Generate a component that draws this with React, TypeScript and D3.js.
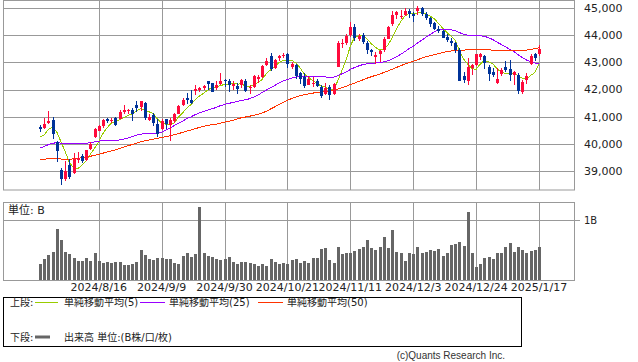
import React from 'react';
import * as d3 from 'd3';

// daily OHLC, 2024/7/29 - 2025/1/17
const opens = [
  40620, 40600, 40760, 40880, 40070, 39050, 38720, 39220, 38920, 39400,
  39540, 39390, 39800, 40240, 40490, 40640, 40900, 40830, 40950, 40920,
  41180, 41220, 41240, 41440, 41340, 41500, 40890, 41060, 40750, 40550,
  40900, 40700, 40850, 41110, 41450, 41700, 41620, 41950, 41980, 42070,
  42300, 42240, 42070, 42200, 42340, 42320, 42140, 42120, 42180, 42330,
  42040, 42080, 42400, 42450, 42900, 43230, 42800, 43150, 43250, 43300,
  42850, 42900, 42600, 42450, 42180, 42200, 42300, 42100, 41850, 42100,
  41850, 42850, 43700, 43700, 44000, 44300, 43880, 44000, 43700, 43450,
  43200, 43300, 43450, 43880, 44400, 44750, 44690, 44750, 44910, 44800,
  44900, 45000, 44780, 44620, 44450, 44250, 44150, 43950, 43800, 43700,
  43450, 42500, 42300, 42800, 42900, 43200, 43250, 42850, 42650, 42250,
  42560, 42850, 42750, 42530, 42550, 41900, 42350, 42950, 43300, 43300,
];
const highs = [
  40700, 40940, 41200, 40990, 40100, 39100, 39370, 39440, 39650, 39710,
  39620, 39780, 40070, 40590, 40700, 40910, 40950, 40960, 41000, 41250,
  41420, 41300, 41330, 41585, 41585, 41560, 41090, 41130, 40900, 40900,
  40920, 40950, 41120, 41420, 41690, 41860, 41980, 42170, 42110, 42170,
  42330, 42250, 42300, 42600, 42400, 42400, 42300, 42250, 42400, 42380,
  42150, 42530, 42550, 42900, 43150, 43330, 43120, 43290, 43350, 43330,
  43000, 42950, 42650, 42600, 42500, 42450, 42400, 42150, 42250, 42150,
  42250, 43800, 43850, 44050, 44500, 44400, 44060, 44100, 43800, 43500,
  43400, 43450, 43950, 44350, 44900, 44900, 44950, 44990, 44970, 44850,
  45080, 45050, 44850, 44680, 44500, 44350, 44200, 44050, 43900, 43750,
  43550, 42650, 43150, 42950, 43300, 43350, 43280, 42900, 42800, 42800,
  42800, 43050, 43100, 42700, 42600, 42350, 42600, 43300, 43350, 43650,
];
const lows = [
  40420, 40540, 40750, 40170, 39320, 38500, 38630, 38700, 38880, 39300,
  39280, 39370, 39780, 40200, 40460, 40600, 40780, 40760, 40650, 40900,
  41100, 41100, 40850, 41180, 41200, 40870, 40830, 40650, 40250, 40500,
  40550, 40090, 40760, 41100, 41400, 41480, 41460, 41800, 41900, 41990,
  42000, 41900, 42000, 42150, 42100, 41900, 42000, 41850, 42050, 41900,
  41850, 42060, 42250, 42440, 42880, 42700, 42750, 43050, 43150, 42800,
  42750, 42400, 42200, 42050, 42150, 42100, 42100, 41700, 41800, 41600,
  41800, 42850, 43550, 43650, 43950, 43800, 43800, 43680, 43300, 43250,
  42950, 43000, 43400, 43850, 44350, 44600, 44600, 44700, 44650, 44500,
  44750, 44700, 44550, 44300, 44200, 44100, 43900, 43750, 43600, 43350,
  42300, 42250, 42150, 42550, 42880, 43100, 42750, 42300, 42450, 42200,
  42500, 42650, 42300, 42150, 41850, 41850, 42200, 42900, 43050, 43250,
];
const closes = [
  40539, 40743, 40842, 40347, 39737, 38703, 38997, 38763, 39446, 39497,
  39357, 39765, 40008, 40563, 40659, 40896, 40834, 40890, 40712, 41175,
  41240, 41250, 41091, 41335, 41563, 40937, 40975, 40755, 40345, 40830,
  40737, 40861, 41097, 41394, 41622, 41606, 41503, 42025, 42063, 42124,
  42208, 41915, 42175, 42313, 42330, 42156, 42196, 42011, 42352, 41954,
  42080, 42512, 42454, 42863, 43065, 42740, 43077, 43239, 43275, 42931,
  42924, 42514, 42374, 42114, 42387, 42233, 42141, 41763, 42052, 41794,
  42222, 43729, 43729, 43989, 44293, 43911, 43958, 43751, 43445, 43390,
  43269, 43408, 43870, 44297, 44736, 44860, 44722, 44911, 44782, 44705,
  45014, 44766, 44643, 44401, 44248, 44149, 43914, 43828, 43717, 43450,
  42327, 42342, 42840, 42907, 43297, 43325, 42992, 42574, 42544, 42392,
  42732, 42706, 42528, 42635, 41938, 42297, 42518, 43222, 43153, 43488,
];
// closes before the window (needed for the moving averages)
const priorCloses = [
  39869, 40004, 39806, 39872, 39671, 39065, 39070, 38852, 38442, 38112, 38686,
  38571, 38711, 38807, 38886, 38799, 38868, 38747, 38712, 38647, 38589, 38778, 38834, 39134, 39150,
  39411, 39112, 39127, 39164, 39118, 39170, 39331, 39308, 39375, 39344, 39291, 39721, 39753, 40001,
  40212, 40954, 41198, 40665, 40288, 40415, 40358, 39854, 39935, 40589,
];
// volume, billions
const volumes = [
  0.27, 0.35, 0.42, 0.47, 0.85, 0.67, 0.46, 0.43, 0.37, 0.32,
  0.31, 0.37, 0.32, 0.45, 0.32, 0.28, 0.30, 0.28, 0.30, 0.30,
  0.25, 0.25, 0.27, 0.30, 0.50, 0.42, 0.35, 0.33, 0.37, 0.37,
  0.35, 0.35, 0.28, 0.27, 0.40, 0.45, 0.38, 0.43, 1.22, 0.45,
  0.40, 0.38, 0.35, 0.33, 0.35, 0.38, 0.30, 0.27, 0.30, 0.30,
  0.28, 0.27, 0.23, 0.27, 0.23, 0.35, 0.30, 0.27, 0.28, 0.27,
  0.33, 0.35, 0.28, 0.32, 0.28, 0.37, 0.37, 0.52, 0.53, 0.33,
  0.28, 0.55, 0.43, 0.45, 0.45, 0.48, 0.52, 0.55, 0.67, 0.53,
  0.50, 0.55, 0.72, 0.53, 0.83, 0.47, 0.45, 0.32, 0.45, 0.43,
  0.55, 0.45, 0.47, 0.50, 0.48, 0.52, 0.40, 0.45, 0.58, 0.60,
  0.63, 0.57, 1.13, 0.45, 0.22, 0.27, 0.37, 0.38, 0.35, 0.45,
  0.45, 0.55, 0.62, 0.47, 0.55, 0.50, 0.45, 0.48, 0.50, 0.55,
];

const tickIdx = [14, 29, 44, 59, 74, 89, 104, 119];
const tickLabels = ['2024/8/16', '2024/9/9', '2024/9/30', '2024/10/21', '2024/11/11', '2024/12/3', '2024/12/24', '2025/1/17'];
const priceTicks = [39000, 40000, 41000, 42000, 43000, 44000, 45000];
const maPeriods = [5, 25, 50];
const maColors = ['#99cc00', '#9900ff', '#ff3300'];

const UP = '#ff0a3c';
const DOWN = '#003399';
const GRID = '#999999';
const FONT = '"DejaVu Sans", "Noto Sans CJK JP", sans-serif';

const L = 3, R = 574;
const PT = 0.5, PB = 190;
const VT = 202, VB = 280;

export default function App() {
  const n = closes.length;
  const x = d3.scaleLinear().domain([0, n - 1]).range([40, 539]);
  const y = d3.scaleLinear().domain([38300, 45300]).range([PB, 0]);
  const yv = d3.scaleLinear().domain([0, 1.3]).range([VB, VT]);
  const px = (i: number) => Math.round(x(i));

  const all = priorCloses.concat(closes);
  const off = priorCloses.length;
  const ma = (p: number) => closes.map((_, i) => d3.mean(all.slice(i + off - p + 1, i + off + 1)) as number);

  const line = d3.line<number>().x((_, i) => x(i)).y((d) => y(d));

  return (
    <svg width={638} height={362} style={{ position: 'absolute', left: 0, top: 0, background: '#fff' }} fontFamily={FONT}>
      {/* price grid */}
      {priceTicks.map((t) => (
        <line key={t} x1={L} x2={R} y1={Math.round(y(t)) + 0.5} y2={Math.round(y(t)) + 0.5} stroke={GRID} />
      ))}
      {tickIdx.map((i) => (
        <g key={i}>
          <line x1={px(i) + 0.5} x2={px(i) + 0.5} y1={PT} y2={PB} stroke={GRID} />
          <line x1={px(i) + 0.5} x2={px(i) + 0.5} y1={VT} y2={VB} stroke={GRID} />
        </g>
      ))}
      <rect x={L + 0.5} y={PT} width={R - L} height={PB - PT} fill="none" stroke={GRID} />

      {/* moving averages */}
      {maPeriods.map((p, k) => (
        <path key={p} d={line(ma(p)) || ''} fill="none" stroke={maColors[k]} strokeWidth={1} shapeRendering="crispEdges" />
      ))}

      {/* candles */}
      {closes.map((c, i) => {
        const o = opens[i];
        const col = c >= o ? UP : DOWN;
        const top = Math.round(y(Math.max(o, c)));
        const bot = Math.round(y(Math.min(o, c)));
        return (
          <g key={i}>
            <line x1={px(i) + 0.5} x2={px(i) + 0.5} y1={Math.round(y(highs[i]))} y2={Math.round(y(lows[i]))} stroke={col} />
            <rect x={px(i) - 1} y={top} width={3} height={Math.max(1, bot - top)} fill={col} />
          </g>
        );
      })}

      {priceTicks.map((t) => (
        <text key={t} x={584} y={y(t)} dy="0.35em" fontSize={11} fill="#222">
          {d3.format(',')(t)}
        </text>
      ))}

      {/* volume */}
      <line x1={L} x2={R} y1={Math.round(yv(1)) + 0.5} y2={Math.round(yv(1)) + 0.5} stroke={GRID} />
      <line x1={R} x2={580} y1={Math.round(yv(1)) + 0.5} y2={Math.round(yv(1)) + 0.5} stroke={GRID} />
      {volumes.map((v, i) => (
        <rect key={i} x={px(i) - 1} y={Math.round(yv(v))} width={3} height={VB - Math.round(yv(v))} fill="#666" />
      ))}
      <rect x={L + 0.5} y={VT + 0.5} width={R - L} height={VB - VT} fill="none" stroke={GRID} />
      <text x={8} y={214} fontSize={11} fill="#222">単位: B</text>
      <text x={584} y={yv(1)} dy="0.35em" fontSize={10} fill="#222">1B</text>

      {tickIdx.map((i, k) => (
        <text key={i} x={x(i)} y={291} fontSize={11} textAnchor="middle" fill="#222">
          {tickLabels[k]}
        </text>
      ))}

      {/* legend */}
      <rect x={3.5} y={297.5} width={518} height={49} fill="none" stroke="#000" />
      <g fontSize={10} fill="#222">
        <text x={10} y={306}>上段:</text>
        <line x1={35} x2={58} y1={302.5} y2={302.5} stroke={maColors[0]} />
        <text x={64} y={306}>単純移動平均(5)</text>
        <line x1={140} x2={165} y1={302.5} y2={302.5} stroke={maColors[1]} />
        <text x={169} y={306}>単純移動平均(25)</text>
        <line x1={258} x2={283} y1={302.5} y2={302.5} stroke={maColors[2]} />
        <text x={287} y={306}>単純移動平均(50)</text>
        <text x={10} y={341}>下段:</text>
        <line x1={35} x2={50} y1={337} y2={337} stroke="#666" strokeWidth={3} />
        <text x={64} y={341}>出来高 単位:(B株/口/枚)</text>
      </g>
      <text x={505} y={359} fontSize={10} textAnchor="end" fill="#333" fontFamily='"Liberation Sans", sans-serif'>
        (c)Quants Research Inc.
      </text>
    </svg>
  );
}
